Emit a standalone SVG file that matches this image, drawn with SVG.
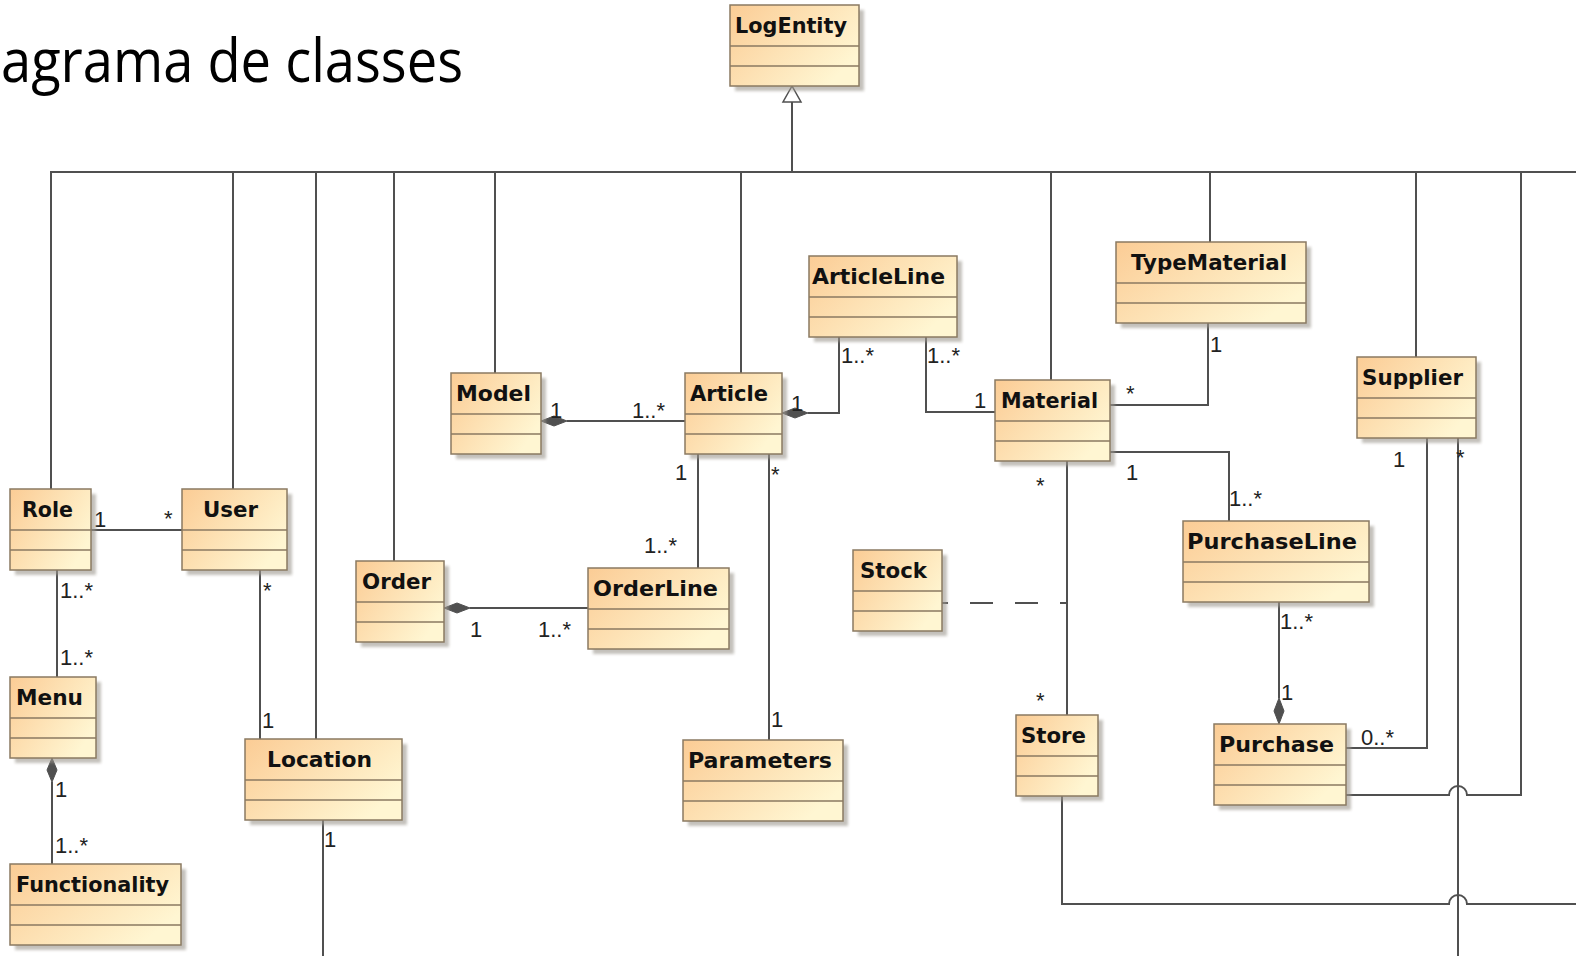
<svg xmlns="http://www.w3.org/2000/svg" width="1576" height="956" viewBox="0 0 1576 956">
<style>
.box{fill:url(#g);stroke:#8a7a62;stroke-width:1.5}
.sh{fill:#9c978f;opacity:.6}
.sep{stroke:#8a7a62;stroke-width:1.5}
.name{font-family:"DejaVu Sans",Verdana,sans-serif;font-weight:bold;font-size:21px;fill:#111}
.ln{fill:none;stroke:#505050;stroke-width:2}
.dia{fill:#505050;stroke:#505050;stroke-width:1}
.lbl{font-family:"Liberation Sans",Arial,sans-serif;font-size:22px;fill:#222}
.title{font-family:"Open Sans","Noto Sans",sans-serif;font-size:60px;fill:#000}
</style>
<defs>
<linearGradient id="g" x1="0" y1="0" x2="1" y2="0.6">
<stop offset="0" stop-color="#fbcc95"/>
<stop offset="1" stop-color="#fff6d2"/>
</linearGradient>
<filter id="blur" x="-10%" y="-10%" width="120%" height="120%"><feGaussianBlur stdDeviation="1.5"/></filter>
</defs>
<rect width="1576" height="956" fill="#fff"/>
<text class="title" x="1" y="82" textLength="462" lengthAdjust="spacingAndGlyphs">agrama de classes</text>

<g id="connectors">
<path class="ln" d="M792,102 V172 M51,489 V172 H1576 M233,172 V489 M316,172 V739 M394,172 V561 M495,172 V373 M741,172 V373 M1051,172 V380 M1210,172 V242 M1416,172 V357"/>
<path class="ln" d="M1521,172 V795 H1467 A9 9 0 0 0 1449 795 H1346"/>
<path class="ln" d="M1062,796 V904 H1449 A9 9 0 0 1 1467 904 H1576"/>
<path class="ln" d="M1427,438 V748 H1346 M1458,438 V956"/>
<path class="ln" d="M91,530 H182 M57,570 V677 M52,782 V864 M260,570 V739 M323,820 V956"/>
<path class="ln" d="M470,608 H588 M567,421 H685 M808,413 H839 V337 M926,337 V412 H995 M698,454 V568 M769,454 V740"/>
<path class="ln" d="M1208,323 V405 H1110 M1110,452 H1229 V521 M1067,461 V715 M1279,601 V698"/>
<path class="ln" d="M1067,603 H942" stroke-dasharray="23 22" stroke-dashoffset="16"/>
<polygon points="792,86 783,102 801,102" fill="#fff" stroke="#505050" stroke-width="1.5"/>
<polygon class="dia" points="541,421 554,416 567,421 554,426"/>
<polygon class="dia" points="782,413 795,408 808,413 795,418"/>
<polygon class="dia" points="444,608 457,603 470,608 457,613"/>
<polygon class="dia" points="52,758 47,770 52,782 57,770"/>
<polygon class="dia" points="1279,724 1274,711 1279,698 1284,711"/>
<text class="lbl" x="94" y="527">1</text>
<text class="lbl" x="164" y="526">*</text>
<text class="lbl" x="60" y="598">1..*</text>
<text class="lbl" x="60" y="665">1..*</text>
<text class="lbl" x="263" y="598">*</text>
<text class="lbl" x="262" y="728">1</text>
<text class="lbl" x="55" y="797">1</text>
<text class="lbl" x="55" y="853">1..*</text>
<text class="lbl" x="550" y="418">1</text>
<text class="lbl" x="632" y="418">1..*</text>
<text class="lbl" x="791" y="411">1</text>
<text class="lbl" x="841" y="363">1..*</text>
<text class="lbl" x="927" y="363">1..*</text>
<text class="lbl" x="974" y="408">1</text>
<text class="lbl" x="675" y="480">1</text>
<text class="lbl" x="771" y="482">*</text>
<text class="lbl" x="644" y="553">1..*</text>
<text class="lbl" x="771" y="727">1</text>
<text class="lbl" x="470" y="637">1</text>
<text class="lbl" x="538" y="637">1..*</text>
<text class="lbl" x="324" y="847">1</text>
<text class="lbl" x="1210" y="352">1</text>
<text class="lbl" x="1126" y="401">*</text>
<text class="lbl" x="1126" y="480">1</text>
<text class="lbl" x="1229" y="506">1..*</text>
<text class="lbl" x="1036" y="493">*</text>
<text class="lbl" x="1036" y="708">*</text>
<text class="lbl" x="1393" y="467">1</text>
<text class="lbl" x="1456" y="465">*</text>
<text class="lbl" x="1280" y="629">1..*</text>
<text class="lbl" x="1281" y="700">1</text>
<text class="lbl" x="1361" y="745">0..*</text>
</g>

<g id="LogEntity"><rect class="sh" filter="url(#blur)" x="735" y="10" width="129" height="81"/><rect class="box" x="730" y="5" width="129" height="81"/><path class="sep" d="M730,46 H859 M730,66 H859"/><text class="name" x="735" y="33" textLength="112" lengthAdjust="spacingAndGlyphs">LogEntity</text></g>
<g id="Role"><rect class="sh" filter="url(#blur)" x="15" y="494" width="81" height="81"/><rect class="box" x="10" y="489" width="81" height="81"/><path class="sep" d="M10,530 H91 M10,550 H91"/><text class="name" x="22" y="517" textLength="51" lengthAdjust="spacingAndGlyphs">Role</text></g>
<g id="User"><rect class="sh" filter="url(#blur)" x="187" y="494" width="105" height="81"/><rect class="box" x="182" y="489" width="105" height="81"/><path class="sep" d="M182,530 H287 M182,550 H287"/><text class="name" x="203" y="517" textLength="55" lengthAdjust="spacingAndGlyphs">User</text></g>
<g id="Menu"><rect class="sh" filter="url(#blur)" x="15" y="682" width="86" height="81"/><rect class="box" x="10" y="677" width="86" height="81"/><path class="sep" d="M10,718 H96 M10,738 H96"/><text class="name" x="16" y="705" textLength="67" lengthAdjust="spacingAndGlyphs">Menu</text></g>
<g id="Functionality"><rect class="sh" filter="url(#blur)" x="15" y="869" width="171" height="81"/><rect class="box" x="10" y="864" width="171" height="81"/><path class="sep" d="M10,905 H181 M10,925 H181"/><text class="name" x="16" y="892" textLength="153" lengthAdjust="spacingAndGlyphs">Functionality</text></g>
<g id="Location"><rect class="sh" filter="url(#blur)" x="250" y="744" width="157" height="81"/><rect class="box" x="245" y="739" width="157" height="81"/><path class="sep" d="M245,780 H402 M245,800 H402"/><text class="name" x="267" y="767" textLength="105" lengthAdjust="spacingAndGlyphs">Location</text></g>
<g id="Order"><rect class="sh" filter="url(#blur)" x="361" y="566" width="88" height="81"/><rect class="box" x="356" y="561" width="88" height="81"/><path class="sep" d="M356,602 H444 M356,622 H444"/><text class="name" x="362" y="589" textLength="69" lengthAdjust="spacingAndGlyphs">Order</text></g>
<g id="OrderLine"><rect class="sh" filter="url(#blur)" x="593" y="573" width="141" height="81"/><rect class="box" x="588" y="568" width="141" height="81"/><path class="sep" d="M588,609 H729 M588,629 H729"/><text class="name" x="593" y="596" textLength="125" lengthAdjust="spacingAndGlyphs">OrderLine</text></g>
<g id="Model"><rect class="sh" filter="url(#blur)" x="456" y="378" width="90" height="81"/><rect class="box" x="451" y="373" width="90" height="81"/><path class="sep" d="M451,414 H541 M451,434 H541"/><text class="name" x="456" y="401" textLength="75" lengthAdjust="spacingAndGlyphs">Model</text></g>
<g id="Article"><rect class="sh" filter="url(#blur)" x="690" y="378" width="97" height="81"/><rect class="box" x="685" y="373" width="97" height="81"/><path class="sep" d="M685,414 H782 M685,434 H782"/><text class="name" x="690" y="401" textLength="78" lengthAdjust="spacingAndGlyphs">Article</text></g>
<g id="Parameters"><rect class="sh" filter="url(#blur)" x="688" y="745" width="160" height="81"/><rect class="box" x="683" y="740" width="160" height="81"/><path class="sep" d="M683,781 H843 M683,801 H843"/><text class="name" x="688" y="768" textLength="144" lengthAdjust="spacingAndGlyphs">Parameters</text></g>
<g id="ArticleLine"><rect class="sh" filter="url(#blur)" x="814" y="261" width="148" height="81"/><rect class="box" x="809" y="256" width="148" height="81"/><path class="sep" d="M809,297 H957 M809,317 H957"/><text class="name" x="812" y="284" textLength="133" lengthAdjust="spacingAndGlyphs">ArticleLine</text></g>
<g id="TypeMaterial"><rect class="sh" filter="url(#blur)" x="1121" y="247" width="190" height="81"/><rect class="box" x="1116" y="242" width="190" height="81"/><path class="sep" d="M1116,283 H1306 M1116,303 H1306"/><text class="name" x="1131" y="270" textLength="156" lengthAdjust="spacingAndGlyphs">TypeMaterial</text></g>
<g id="Material"><rect class="sh" filter="url(#blur)" x="1000" y="385" width="115" height="81"/><rect class="box" x="995" y="380" width="115" height="81"/><path class="sep" d="M995,421 H1110 M995,441 H1110"/><text class="name" x="1001" y="408" textLength="97" lengthAdjust="spacingAndGlyphs">Material</text></g>
<g id="Stock"><rect class="sh" filter="url(#blur)" x="858" y="555" width="89" height="81"/><rect class="box" x="853" y="550" width="89" height="81"/><path class="sep" d="M853,591 H942 M853,611 H942"/><text class="name" x="860" y="578" textLength="67" lengthAdjust="spacingAndGlyphs">Stock</text></g>
<g id="Store"><rect class="sh" filter="url(#blur)" x="1021" y="720" width="82" height="81"/><rect class="box" x="1016" y="715" width="82" height="81"/><path class="sep" d="M1016,756 H1098 M1016,776 H1098"/><text class="name" x="1021" y="743" textLength="65" lengthAdjust="spacingAndGlyphs">Store</text></g>
<g id="PurchaseLine"><rect class="sh" filter="url(#blur)" x="1188" y="526" width="186" height="81"/><rect class="box" x="1183" y="521" width="186" height="81"/><path class="sep" d="M1183,562 H1369 M1183,582 H1369"/><text class="name" x="1187" y="549" textLength="170" lengthAdjust="spacingAndGlyphs">PurchaseLine</text></g>
<g id="Purchase"><rect class="sh" filter="url(#blur)" x="1219" y="729" width="132" height="81"/><rect class="box" x="1214" y="724" width="132" height="81"/><path class="sep" d="M1214,765 H1346 M1214,785 H1346"/><text class="name" x="1219" y="752" textLength="115" lengthAdjust="spacingAndGlyphs">Purchase</text></g>
<g id="Supplier"><rect class="sh" filter="url(#blur)" x="1362" y="362" width="119" height="81"/><rect class="box" x="1357" y="357" width="119" height="81"/><path class="sep" d="M1357,398 H1476 M1357,418 H1476"/><text class="name" x="1362" y="385" textLength="101" lengthAdjust="spacingAndGlyphs">Supplier</text></g>
</svg>
